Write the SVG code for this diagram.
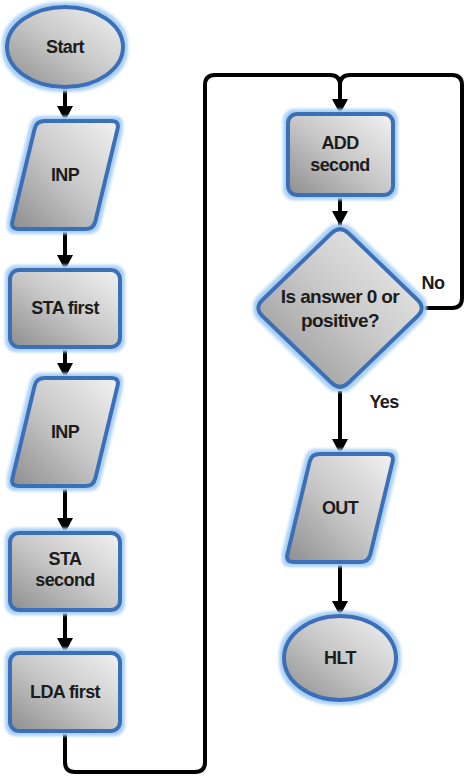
<svg xmlns="http://www.w3.org/2000/svg" width="467" height="776" viewBox="0 0 467 776">
<defs>
<linearGradient id="fillg" x1="0" y1="1" x2="1" y2="0">
<stop offset="0" stop-color="#8e8e8e"/>
<stop offset="0.5" stop-color="#c8c8c8"/>
<stop offset="1" stop-color="#f2f2f2"/>
</linearGradient>
<filter id="glow" x="-15%" y="-15%" width="130%" height="130%">
<feMorphology in="SourceAlpha" operator="dilate" radius="3" result="d"/>
<feGaussianBlur in="d" stdDeviation="1.5" result="b"/>
<feFlood flood-color="#a9d0f5"/>
<feComposite in2="b" operator="in" result="g"/>
<feMerge><feMergeNode in="g"/><feMergeNode in="SourceGraphic"/></feMerge>
</filter>
<marker id="arr" markerUnits="userSpaceOnUse" markerWidth="17" markerHeight="17" refX="15" refY="8" orient="auto">
<path d="M0,0 L15,8 L0,16 Z" fill="#000"/>
</marker>
<path id="para" d="M34,0 L101,0 Q109,0 107.1,7.8 L84.9,100.2 Q83,108 75,108 L8,108 Q0,108 1.9,100.2 L24.1,7.8 Q26,0 34,0 Z"/>
</defs>
<style>
.shape{fill:url(#fillg);stroke:#3a6fb8;stroke-width:4;filter:url(#glow)}
.lbl{font-family:"Liberation Sans",Arial,sans-serif;font-weight:bold;font-size:18px;fill:#1c1c1c;text-anchor:middle;letter-spacing:-0.6px}
.big{font-size:19px}
.conn{fill:none;stroke:#000;stroke-width:4}
</style>
<rect width="467" height="776" fill="#fff"/>
<g id="connectors">
<line class="conn" x1="65" y1="87" x2="65" y2="121" marker-end="url(#arr)"/>
<line class="conn" x1="65" y1="229" x2="65" y2="270" marker-end="url(#arr)"/>
<line class="conn" x1="65" y1="347" x2="65" y2="378" marker-end="url(#arr)"/>
<line class="conn" x1="65" y1="486" x2="65" y2="533" marker-end="url(#arr)"/>
<line class="conn" x1="65" y1="610" x2="65" y2="653" marker-end="url(#arr)"/>
<path class="conn" d="M65,731 V762 Q65,772 75,772 H195 Q205,772 205,762 V85 Q205,75 215,75 H330 Q340,75 340,85 V114" marker-end="url(#arr)"/>
<path class="conn" d="M424,308 H452 Q462,308 462,298 V85 Q462,75 452,75 H350 Q340,75 340,85"/>
<line class="conn" x1="340" y1="195" x2="340" y2="226" marker-end="url(#arr)"/>
<line class="conn" x1="340" y1="391" x2="340" y2="454" marker-end="url(#arr)"/>
<line class="conn" x1="340" y1="562" x2="340" y2="616" marker-end="url(#arr)"/>
<text class="lbl" x="433" y="289">No</text>
<text class="lbl" x="384" y="408">Yes</text>
</g>
<g id="start">
<ellipse class="shape" cx="65" cy="47" rx="58" ry="40"/>
<text class="lbl" x="65" y="53">Start</text>
</g>
<g id="inp1" transform="translate(10.5,121)">
<use href="#para" class="shape"/>
<text class="lbl" x="54.5" y="60">INP</text>
</g>
<g id="sta-first">
<rect class="shape" x="10" y="270" width="110" height="77" rx="9"/>
<text class="lbl" x="65" y="314">STA first</text>
</g>
<g id="inp2" transform="translate(10.5,378)">
<use href="#para" class="shape"/>
<text class="lbl" x="54.5" y="60">INP</text>
</g>
<g id="sta-second">
<rect class="shape" x="10" y="533" width="110" height="77" rx="9"/>
<text class="lbl" x="65" y="565">STA</text>
<text class="lbl" x="65" y="586">second</text>
</g>
<g id="lda-first">
<rect class="shape" x="10" y="653" width="110" height="78" rx="9"/>
<text class="lbl" x="65" y="698">LDA first</text>
</g>
<g id="add-second">
<rect class="shape" x="288" y="114" width="105" height="81" rx="9"/>
<text class="lbl" x="340" y="149">ADD</text>
<text class="lbl" x="340" y="171">second</text>
</g>
<g id="decision">
<path class="shape" d="M348.6,233.3 L417.4,299.7 Q426,308 417.4,316.3 L348.6,382.7 Q340,391 331.4,382.7 L262.6,316.3 Q254,308 262.6,299.7 L331.4,233.3 Q340,225 348.6,233.3 Z"/>
<text class="lbl big" x="340" y="303">Is answer 0 or</text>
<text class="lbl big" x="340" y="327">positive?</text>
</g>
<g id="out" transform="translate(285.5,454)">
<use href="#para" class="shape"/>
<text class="lbl" x="54.5" y="60">OUT</text>
</g>
<g id="hlt">
<ellipse class="shape" cx="340" cy="658" rx="56" ry="42"/>
<text class="lbl" x="340" y="664">HLT</text>
</g>
</svg>
